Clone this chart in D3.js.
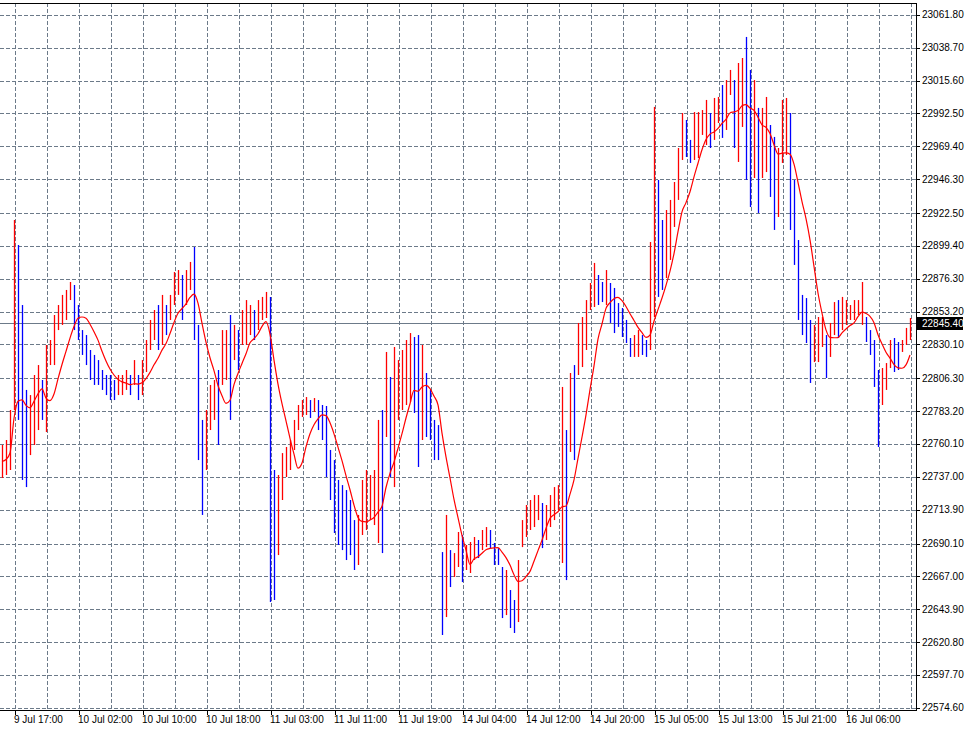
<!DOCTYPE html>
<html><head><meta charset="utf-8">
<script src="https://cdn.jsdelivr.net/npm/d3@7"></script>
<style>body{margin:0;background:#fff}svg{display:block}text{font-family:"Liberation Sans",Arial,sans-serif;font-size:10px}</style>
</head><body><svg id="c" width="966" height="729"></svg>
<script>
const highs=[22759.4,22762.9,22784.0,22917.6,22900.0,22857.8,22798.1,22794.5,22808.6,22815.6,22805.1,22829.7,22833.2,22850.8,22857.8,22864.9,22868.4,22874.0,22871.9,22857.8,22840.2,22836.7,22826.2,22822.7,22819.1,22812.1,22808.6,22808.6,22805.1,22808.6,22808.6,22812.1,22808.6,22819.1,22808.6,22819.1,22833.2,22847.3,22854.3,22857.8,22864.9,22857.8,22864.9,22881.0,22882.4,22878.9,22882.4,22888.1,22898.6,22843.8,22777.0,22784.0,22801.6,22805.1,22812.1,22840.2,22840.2,22850.8,22843.8,22840.2,22854.3,22861.3,22857.8,22854.3,22861.3,22863.5,22867.0,22863.5,22741.8,22738.3,22753.7,22758.0,22762.9,22777.0,22787.5,22791.0,22793.1,22791.0,22792.4,22791.0,22787.5,22786.8,22755.9,22748.8,22734.8,22731.2,22727.7,22720.7,22706.6,22710.2,22734.8,22741.8,22738.3,22741.8,22777.0,22784.0,22824.8,22807.2,22828.3,22819.1,22826.2,22833.2,22838.1,22835.3,22836.7,22829.7,22810.0,22798.1,22777.0,22773.4,22684.1,22710.2,22685.5,22683.4,22698.2,22696.1,22689.1,22691.2,22694.7,22692.6,22699.6,22701.7,22699.6,22690.5,22686.9,22673.6,22671.5,22657.4,22650.4,22678.5,22706.6,22717.2,22720.7,22724.2,22724.2,22718.6,22717.2,22724.2,22729.8,22731.2,22800.2,22769.9,22810.0,22815.6,22845.2,22849.4,22861.3,22873.3,22887.4,22878.9,22874.0,22882.4,22873.3,22869.8,22859.2,22855.7,22847.3,22834.6,22836.7,22840.2,22836.7,22833.2,22902.1,22997.1,22945.7,22917.6,22924.6,22931.7,22944.3,22968.2,22992.8,22987.9,22973.9,22993.5,22993.5,22994.9,23002.0,22992.8,23003.4,23004.1,23012.5,23016.0,23023.1,23016.0,23028.0,23031.5,23046.3,23023.1,23016.0,22996.4,22996.4,23004.1,22984.4,22976.0,22968.2,23002.0,23003.4,22992.8,22945.7,22903.5,22864.9,22862.7,22847.3,22843.8,22849.4,22849.4,22836.7,22845.2,22859.9,22861.3,22863.5,22861.3,22857.8,22861.3,22861.3,22874.0,22849.4,22840.2,22833.2,22812.1,22813.5,22817.0,22833.2,22834.6,22831.8,22833.2,22841.7,22848.7];
const lows=[22736.2,22738.3,22741.8,22784.0,22777.0,22734.8,22729.8,22752.3,22759.4,22769.9,22777.0,22768.5,22815.6,22815.6,22840.2,22843.8,22847.3,22861.3,22840.2,22833.2,22822.7,22815.6,22805.1,22801.6,22801.6,22798.1,22794.5,22791.0,22791.0,22794.5,22794.5,22798.1,22794.5,22801.6,22791.0,22794.5,22810.7,22826.2,22833.2,22826.2,22829.7,22836.7,22847.3,22857.8,22864.9,22847.3,22857.8,22868.4,22833.2,22748.8,22710.2,22741.8,22769.9,22777.0,22759.4,22801.6,22805.1,22777.0,22819.1,22812.1,22829.7,22829.7,22836.7,22833.2,22840.2,22847.3,22848.7,22649.0,22650.4,22682.0,22720.7,22736.9,22741.8,22755.9,22769.9,22779.1,22780.5,22778.4,22782.6,22769.9,22762.9,22736.9,22720.7,22697.5,22689.1,22685.5,22678.5,22682.0,22671.5,22675.0,22696.1,22699.6,22706.6,22703.1,22690.5,22683.4,22765.0,22736.9,22729.8,22777.0,22784.0,22787.5,22789.6,22781.9,22743.9,22762.9,22765.0,22762.9,22748.8,22748.8,22625.8,22638.4,22659.5,22666.6,22673.6,22663.0,22671.5,22669.4,22678.5,22679.9,22685.5,22687.6,22686.9,22675.0,22675.0,22637.7,22639.8,22630.7,22627.2,22634.9,22687.6,22694.7,22699.6,22701.7,22706.6,22686.9,22692.6,22701.7,22706.6,22713.7,22676.4,22664.4,22754.5,22748.8,22808.6,22814.2,22826.2,22854.3,22856.4,22857.8,22859.9,22857.8,22845.2,22838.1,22842.4,22835.3,22831.1,22821.3,22821.3,22821.3,22822.7,22821.3,22826.2,22849.4,22863.5,22868.4,22876.8,22889.5,22912.7,22931.7,22959.8,22961.9,22957.7,22959.8,22961.2,22977.4,22970.3,22968.2,22973.9,22985.8,22975.3,22980.9,23005.5,22968.2,22958.4,22983.0,22945.7,22926.7,22947.1,22922.5,22947.1,22951.3,22933.8,22910.6,22919.7,22957.7,22963.3,22910.6,22886.0,22847.3,22836.7,22831.1,22803.0,22817.7,22817.7,22828.3,22806.5,22821.3,22836.7,22834.6,22840.2,22843.8,22847.3,22847.3,22850.8,22843.8,22831.8,22822.7,22800.2,22758.0,22787.5,22798.1,22813.5,22810.7,22812.1,22824.8,22829.7,22833.2];
const priceTicks=[23061.80,23038.70,23015.60,22992.50,22969.40,22946.30,22922.50,22899.40,22876.30,22853.20,22830.10,22806.30,22783.20,22760.10,22737.00,22713.90,22690.10,22667.00,22643.90,22620.80,22597.70,22574.60];
const timeLabels=["9 Jul 17:00","10 Jul 02:00","10 Jul 10:00","10 Jul 18:00","11 Jul 03:00","11 Jul 11:00","11 Jul 19:00","14 Jul 04:00","14 Jul 12:00","14 Jul 20:00","15 Jul 05:00","15 Jul 13:00","15 Jul 21:00","16 Jul 06:00"];
const lastPrice=22845.40;
const maPeriod=8;

const svg=d3.select("#c");
const L=0,R=916,T=3,B=710;
const x=d3.scaleLinear().domain([0,highs.length-1]).range([2,910]);
const y=d3.scaleLinear().domain([22574.6,23061.8]).range([707.8,14.9]);
const labelIdx=timeLabels.map((d,k)=>3.25+16*k);
const gridIdx=d3.range(3.25,highs.length,8);
const gridC="#6c7a89";

const g=svg.append("g");
g.selectAll(".gy").data(priceTicks).join("line").attr("x1",L).attr("x2",R).attr("y1",d=>Math.round(y(d))+.5).attr("y2",d=>Math.round(y(d))+.5).attr("stroke",gridC).attr("stroke-dasharray","4,2");
g.selectAll(".gx").data(gridIdx).join("line").attr("x1",d=>Math.round(x(d))+.5).attr("x2",d=>Math.round(x(d))+.5).attr("y1",T).attr("y2",B).attr("stroke",gridC).attr("stroke-dasharray","4,2");
g.append("line").attr("x1",L).attr("x2",R).attr("y1",Math.round(y(lastPrice))+.5).attr("y2",Math.round(y(lastPrice))+.5).attr("stroke",gridC);

const mid=highs.map((h,i)=>(h+lows[i])/2);
g.selectAll(".bar").data(highs).join("line")
 .attr("x1",(d,i)=>Math.round(x(i))+.5).attr("x2",(d,i)=>Math.round(x(i))+.5)
 .attr("y1",d=>y(d)).attr("y2",(d,i)=>y(lows[i]))
 .attr("stroke",(d,i)=>i===0||mid[i]>=mid[i-1]?"#ff0000":"#0000ff").attr("stroke-width",1.3);

const ma=mid.map((m,i)=>d3.mean(mid.slice(Math.max(0,i-maPeriod+1),i+1)));
g.append("path").datum(ma).attr("fill","none").attr("stroke","#ff0000").attr("stroke-width",1.2)
 .attr("d",d3.line().x((d,i)=>x(i)).y(d=>y(d)).curve(d3.curveMonotoneX));

svg.append("line").attr("x1",0).attr("x2",R).attr("y1",T+.5).attr("y2",T+.5).attr("stroke","#000");
svg.append("line").attr("x1",R+.5).attr("x2",R+.5).attr("y1",T).attr("y2",B+1).attr("stroke","#000");
svg.append("line").attr("x1",0).attr("x2",R).attr("y1",B+.5).attr("y2",B+.5).attr("stroke","#000");

const ya=svg.append("g");
ya.selectAll("line").data(priceTicks).join("line").attr("x1",R).attr("x2",R+4).attr("y1",d=>Math.round(y(d))+.5).attr("y2",d=>Math.round(y(d))+.5).attr("stroke","#000");
ya.selectAll("text").data(priceTicks).join("text").attr("x",922).attr("y",d=>y(d)+3.5).text(d=>d.toFixed(2));
const ly=Math.round(y(lastPrice));
svg.append("rect").attr("x",R+1).attr("y",ly-6).attr("width",46).attr("height",13).attr("fill","#000");
svg.append("text").attr("x",922).attr("y",ly+4).attr("fill","#fff").text(lastPrice.toFixed(2));

const xa=svg.append("g");
xa.selectAll("line").data(labelIdx).join("line").attr("x1",d=>Math.round(x(d))+.5).attr("x2",d=>Math.round(x(d))+.5).attr("y1",B).attr("y2",B+5).attr("stroke","#000");
xa.selectAll("text").data(timeLabels).join("text").attr("x",(d,i)=>Math.round(x(labelIdx[i]))-1).attr("y",723).text(d=>d);
</script></body></html>
